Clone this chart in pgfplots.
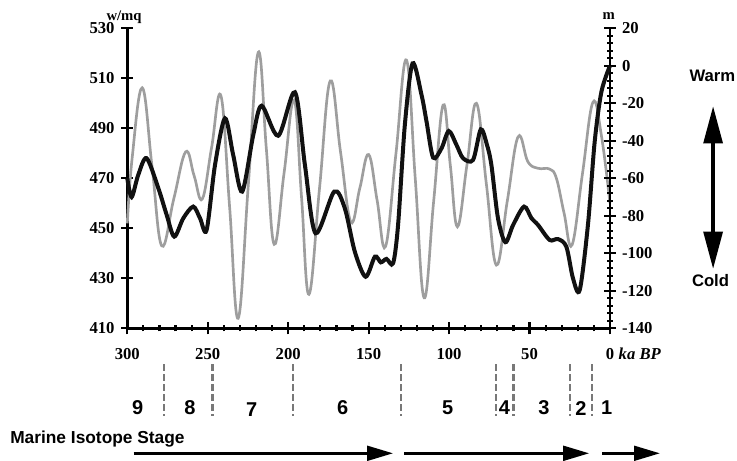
\documentclass[border=0pt]{standalone}
\usepackage{pgfplots}
\pgfplotsset{compat=1.18}
\usetikzlibrary{arrows.meta}
\usepackage{fontspec}
\setmainfont{Liberation Serif}
\newfontfamily\arialfont{Liberation Sans}
\definecolor{gline}{RGB}{158,158,158}
\definecolor{dashgray}{RGB}{120,120,120}
\definecolor{bline}{RGB}{17,17,17}

\pgfplotsset{
  common/.style={
    at={(95.475pt,98.775pt)}, anchor=south west,
    scale only axis, width=362pt, height=225pt,
    xmin=0, xmax=300, x dir=reverse,
    clip=false,
    axis line style={line width=2.2pt,-},
    tick align=center,
    major tick length=9pt, minor tick length=4.5pt,
    every tick/.style={black, line width=1.6pt},
    tick label style={font=\fontsize{12.5}{14}\selectfont\bfseries},
    /pgf/number format/assume math mode=true,
  }
}

\begin{document}
\begin{tikzpicture}
\path[use as bounding box] (0,0) rectangle (552.75pt,345pt);

\begin{axis}[common,
  ymin=410, ymax=530,
  axis x line*=bottom, axis y line*=left,
  xtick={0,50,...,300}, minor x tick num=4,
  ytick={410,430,...,530},
  xticklabel style={yshift=-7pt},
  yticklabel style={xshift=-1.5pt},
]
\addplot[gline, line width=2pt, smooth, tension=0.68] coordinates {
(300,452) (297,478) (290.7,506.2) (284.6,474.6) (278.6,443.0) (271.1,461.8)
(263.7,480.6) (258.5,471.1) (253.4,461.7) (247.6,482.3) (241.8,503) (236.4,458.5)
(231.1,414) (224.8,467.2) (218.6,520.4) (213.6,482) (208.7,443.6) (202.5,472.4)
(196.3,501.3) (191.7,462.4) (187.1,423.6) (180.5,466.2) (173.9,508.9) (167.5,480.7)
(161.1,452.6) (155.5,466) (150,479.5) (144.7,461.1) (139.5,442.7) (133,480)
(126.5,517.3) (121,469.7) (115.5,422.2) (109.6,460.7) (103.7,499.3) (99.2,475)
(94.8,450.6) (88.9,475.3) (83,500) (76.8,467.6) (70.6,435.3) (63.8,461)
(57.1,486.6) (51,476.6) (44.7,474) (37.5,473.7) (33.3,470) (28.5,456)
(23.6,443.3) (17.1,471.8) (10.6,500.4) (5.3,487) (0,460)
};

% stage boundaries
\tikzset{sb/.style={dashgray, line width=1.8pt, dash pattern=on 5pt off 2.5pt}}
\draw[sb] (axis cs:277,395.7) -- (axis cs:277,375);
\draw[sb] (axis cs:247,395.7) -- (axis cs:247,375);
\draw[sb] (axis cs:197,395.7) -- (axis cs:197,375);
\draw[sb] (axis cs:130,395.7) -- (axis cs:130,375);
\draw[sb] (axis cs:71,395.7) -- (axis cs:71,375);
\draw[sb] (axis cs:60,395.7) -- (axis cs:60,375);
\draw[sb] (axis cs:25,395.7) -- (axis cs:25,375);
\draw[sb] (axis cs:11,395.7) -- (axis cs:11,375);

% stage numbers
\tikzset{stg/.style={font=\arialfont\fontsize{15}{18}\selectfont\bfseries}}
\node[stg] at (axis cs:293.6,378.1) {9};
\node[stg] at (axis cs:261,378.1) {8};
\node[stg] at (axis cs:222.7,377.5) {7};
\node[stg] at (axis cs:166.2,378.1) {6};
\node[stg] at (axis cs:100.9,378.1) {5};
\node[stg] at (axis cs:65.6,378.1) {4};
\node[stg] at (axis cs:41,378.1) {3};
\node[stg] at (axis cs:18,378.1) {2};
\node[stg] at (axis cs:2,378.1) {1};

% bottom arrows
\draw[line width=2.2pt, -{Triangle[length=19.5pt,width=11pt]}] (axis cs:296.1,360) -- (axis cs:134.8,360);
\draw[line width=2.2pt, -{Triangle[length=19.5pt,width=11pt]}] (axis cs:127.8,360) -- (axis cs:12.9,360);
\draw[line width=2.2pt, -{Triangle[length=19.5pt,width=11pt]}] (axis cs:4.8,360) -- (axis cs:-31.1,360);
\node[anchor=west, font=\arialfont\fontsize{13}{15}\selectfont\bfseries, inner sep=0pt] at (axis cs:372.9,365.7) {Marine Isotope Stage};

% warm / cold
\draw[line width=3pt, {Triangle[length=28pt,width=14pt]}-{Triangle[length=28pt,width=14pt]}] (axis cs:-64.1,498.9) -- (axis cs:-64.1,433.7);
\node[font=\arialfont\fontsize{12.5}{15}\selectfont\bfseries] at (axis cs:-63.7,510.9) {Warm};
\node[font=\arialfont\fontsize{12.5}{15}\selectfont\bfseries] at (axis cs:-62.5,429.3) {Cold};

% axis labels
\node[font=\fontsize{11}{13}\selectfont\bfseries] at (axis cs:302,534.5) {w/mq};
\node[font=\fontsize{11}{13}\selectfont\bfseries] at (axis cs:0.8,534.9) {m};
\node[font=\fontsize{12.5}{14}\selectfont\bfseries\itshape] at (axis cs:-18.5,399.7) {ka BP};
\end{axis}

\begin{axis}[common,
  ymin=-140, ymax=20,
  axis y line*=right, axis x line=none,
  ytick={-140,-120,...,20}, minor y tick num=4,
  yticklabel style={xshift=1pt},
]
\addplot[bline, line width=3pt, smooth, tension=0.5] coordinates {
(300,-60) (297.3,-70) (293.2,-58.2) (288,-49.3) (280.7,-65.3) (275.5,-79.6)
(270.8,-91.1) (265.2,-81.3) (259,-75.1) (254.8,-81.3) (250.7,-87.6) (245.5,-53)
(239.3,-28) (234.2,-47.5) (228.6,-67.1) (221.7,-36.9) (216.5,-21.3) (206.2,-37.3)
(195.8,-14.1) (189.6,-52.9) (183,-89.3) (171.4,-67.1) (164.8,-76) (158.6,-99.1)
(151.9,-112.5) (146.1,-101.8) (142.4,-104.8) (138.9,-103) (134.8,-105.3) (131.7,-84.9)
(127.5,-31.6) (122.7,1.3) (117.1,-15.6) (114,-29.8) (109.9,-49) (104.7,-44)
(100.2,-34.8) (95.4,-42.2) (91.3,-49.3) (85.1,-50.2) (80.3,-33.9) (76.5,-42)
(73.7,-52.9) (69.6,-81.3) (65,-94.1) (60.2,-84.9) (53.4,-75.1) (48.8,-81.3)
(44.7,-84.9) (37.5,-92.9) (32.3,-92.4) (27.1,-96.5) (23,-113.3) (18.8,-119.6)
(13.7,-84.9) (9.5,-40.5) (5.3,-13.8) (0,0)
};
\end{axis}
\end{tikzpicture}
\end{document}
